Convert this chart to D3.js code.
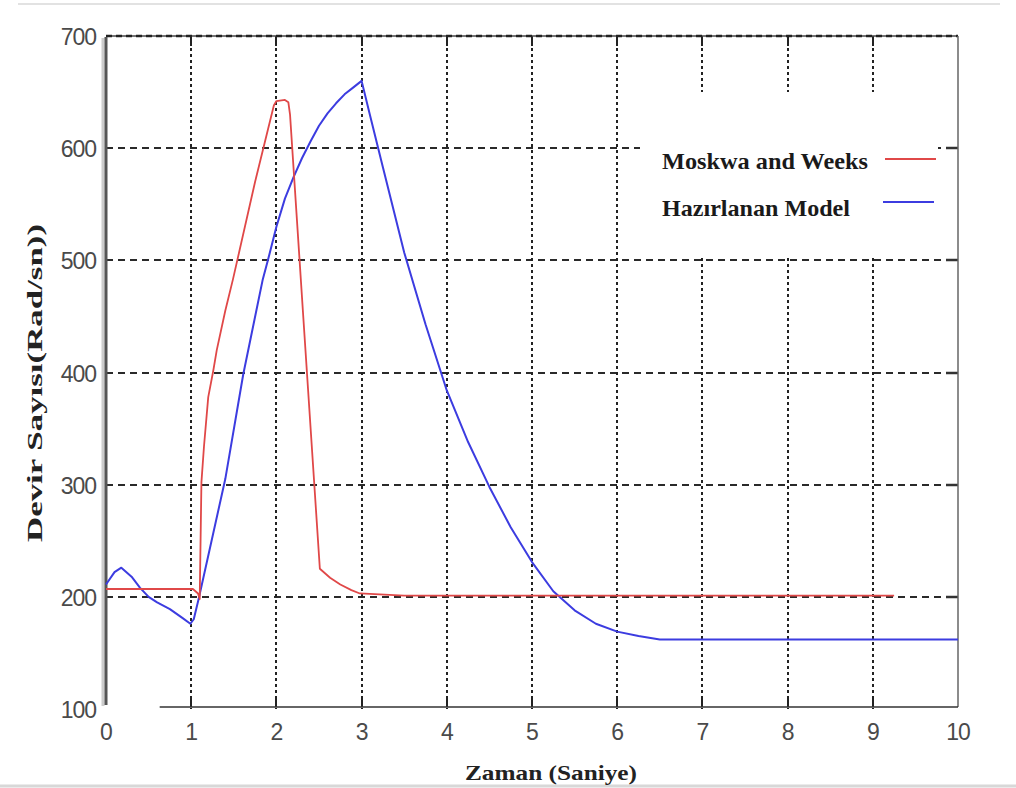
<!DOCTYPE html>
<html>
<head>
<meta charset="utf-8">
<script src="https://cdn.jsdelivr.net/npm/d3@7"></script>
<style>
  body { margin: 0; background: #fff; }
</style>
</head>
<body>
<svg></svg>
<script>
// Moskwa and Weeks (red)
var redTime  = [0, 1.02, 1.08, 1.10, 1.12, 1.15, 1.20, 1.26, 1.30, 1.40, 1.49, 1.75, 1.97, 2.00, 2.10, 2.14, 2.16, 2.31, 2.51, 2.63, 2.75, 2.88, 2.98, 3.5, 9.25];
var redSpeed = [207, 207, 203, 198, 302, 334, 378, 402, 420, 455, 483, 570, 638, 642, 643, 641, 630, 456, 225, 217, 211, 206, 203, 201, 201];

// Hazirlanan Model (blue)
var blueTime  = [0, 0.1, 0.18, 0.3, 0.4, 0.5, 0.6, 0.75, 0.9, 0.99, 1.03, 1.09, 1.40, 1.61, 1.84, 1.9, 2.0, 2.1, 2.2, 2.3, 2.4, 2.5, 2.6, 2.7, 2.8, 2.9, 3.0,
                 3.1, 3.25, 3.5, 3.75, 4.0, 4.25, 4.5, 4.75, 5.0, 5.25, 5.5, 5.75, 6.0, 6.25, 6.5, 10];
var blueSpeed = [211, 222, 226, 218, 208, 200, 195, 189, 181, 176, 180, 199, 305, 398, 483, 500, 530, 555, 574, 591, 606, 620, 631, 640, 648, 654, 660,
                 629, 583, 507, 443, 384, 338, 298, 262, 231, 205, 188, 176, 169, 165, 162, 162];

var xTicks = [0, 1, 2, 3, 4, 5, 6, 7, 8, 9, 10];
var yTicks = [100, 200, 300, 400, 500, 600, 700];
var legendNames = ["Moskwa and Weeks", "Hazırlanan Model"];

var svgWidth = 1016;
var svgHeight = 788;

var xScale = d3.scaleLinear().domain([0, 10]).range([106, 958]);
var yScale = d3.scaleLinear().domain([100, 700]).range([709, 36]);

function px(d) { return Math.round(xScale(d)); }
function py(d) { return Math.round(yScale(d)); }

var svg = d3.select("svg")
    .attr("width", svgWidth)
    .attr("height", svgHeight);

// faint frame lines of the scanned picture
svg.append("line").attr("x1", 18).attr("x2", 1000).attr("y1", 4).attr("y2", 4)
    .attr("stroke", "#e2e2e2").attr("stroke-width", 2);
svg.append("line").attr("x1", 0).attr("x2", 1016).attr("y1", 786).attr("y2", 786)
    .attr("stroke", "#d8d8d8").attr("stroke-width", 3);

// grid
svg.selectAll("line.hgrid")
    .data(yTicks.slice(1, 6))
    .enter()
    .append("line")
    .attr("class", "hgrid")
    .attr("x1", xScale(0)).attr("x2", xScale(10))
    .attr("y1", function(d) { return py(d); })
    .attr("y2", function(d) { return py(d); })
    .attr("stroke", "#2a2a2a")
    .attr("stroke-width", 2)
    .attr("stroke-dasharray", "7,5");

svg.selectAll("line.vgrid")
    .data(xTicks.slice(1, 10))
    .enter()
    .append("line")
    .attr("class", "vgrid")
    .attr("y1", yScale(700)).attr("y2", yScale(100))
    .attr("x1", function(d) { return px(d); })
    .attr("x2", function(d) { return px(d); })
    .attr("stroke", "#222")
    .attr("stroke-width", 2)
    .attr("stroke-dasharray", "3,3");

// ticks on the bottom / top / right
svg.selectAll("line.btick")
    .data(xTicks.slice(1, 10))
    .enter()
    .append("line")
    .attr("x1", function(d) { return px(d); })
    .attr("x2", function(d) { return px(d); })
    .attr("y1", 697).attr("y2", 707)
    .attr("stroke", "#222").attr("stroke-width", 2);
svg.selectAll("line.ttick")
    .data(xTicks.slice(1, 10))
    .enter()
    .append("line")
    .attr("x1", function(d) { return px(d); })
    .attr("x2", function(d) { return px(d); })
    .attr("y1", 36).attr("y2", 46)
    .attr("stroke", "#222").attr("stroke-width", 2);
svg.selectAll("line.rtick")
    .data(yTicks.slice(1, 6))
    .enter()
    .append("line")
    .attr("x1", 946).attr("x2", 958)
    .attr("y1", function(d) { return py(d); })
    .attr("y2", function(d) { return py(d); })
    .attr("stroke", "#333").attr("stroke-width", 2.5);

// legend background hides the grid
svg.append("rect")
    .attr("x", 640).attr("y", 92)
    .attr("width", 298).attr("height", 166)
    .attr("fill", "#fff");

// frame
svg.append("line").attr("x1", 106).attr("x2", 958).attr("y1", 36).attr("y2", 36)
    .attr("stroke", "#444").attr("stroke-width", 1.5);
svg.append("line").attr("x1", 106).attr("x2", 958).attr("y1", 36).attr("y2", 36)
    .attr("stroke", "#222").attr("stroke-width", 2.5).attr("stroke-dasharray", "6,4");
svg.append("line").attr("x1", 103).attr("x2", 103).attr("y1", 38).attr("y2", 706)
    .attr("stroke", "#ccc").attr("stroke-width", 3);
svg.append("line").attr("x1", 106).attr("x2", 106).attr("y1", 37).attr("y2", 705)
    .attr("stroke", "#555").attr("stroke-width", 3);
svg.append("line").attr("x1", 958).attr("x2", 958).attr("y1", 36).attr("y2", 707)
    .attr("stroke", "#666").attr("stroke-width", 1.5);
svg.append("line").attr("x1", xScale(0.63)).attr("x2", 958).attr("y1", 707).attr("y2", 707)
    .attr("stroke", "#333").attr("stroke-width", 1.5);

// curves
var redLine = d3.line()
    .x(function(d, i) { return xScale(redTime[i]); })
    .y(function(d) { return yScale(d); });
var blueLine = d3.line()
    .x(function(d, i) { return xScale(blueTime[i]); })
    .y(function(d) { return yScale(d); });

svg.append("path")
    .datum(blueSpeed)
    .attr("d", blueLine)
    .attr("fill", "none")
    .attr("stroke", "#3c3ce0")
    .attr("stroke-width", 2)
    .attr("stroke-linejoin", "round");

svg.append("path")
    .datum(redSpeed)
    .attr("d", redLine)
    .attr("fill", "none")
    .attr("stroke", "#e04848")
    .attr("stroke-width", 1.8)
    .attr("stroke-linejoin", "round");

// tick labels
svg.selectAll("text.ylab")
    .data(yTicks)
    .enter()
    .append("text")
    .text(function(d) { return d; })
    .attr("x", 96)
    .attr("y", function(d) { return yScale(d) + 9; })
    .attr("text-anchor", "end")
    .attr("font-family", "Liberation Sans, Arial, sans-serif")
    .attr("font-size", "23px")
    .attr("letter-spacing", "-1px")
    .attr("fill", "#4a4a4a");

svg.selectAll("text.xlab")
    .data(xTicks)
    .enter()
    .append("text")
    .text(function(d) { return d; })
    .attr("x", function(d) { return xScale(d); })
    .attr("y", 740)
    .attr("text-anchor", "middle")
    .attr("font-family", "Liberation Sans, Arial, sans-serif")
    .attr("font-size", "23px")
    .attr("letter-spacing", "-1px")
    .attr("fill", "#4a4a4a");

// axis titles
svg.append("text")
    .text("Zaman (Saniye)")
    .attr("x", 551).attr("y", 780)
    .attr("text-anchor", "middle")
    .attr("font-family", "Liberation Serif, Times New Roman, serif")
    .attr("font-weight", "bold")
    .attr("font-size", "22px")
    .attr("textLength", 172)
    .attr("lengthAdjust", "spacingAndGlyphs")
    .attr("fill", "#222");

svg.append("text")
    .text("Devir Sayısı(Rad/sn))")
    .attr("text-anchor", "middle")
    .attr("transform", "translate(42,383) rotate(-90)")
    .attr("font-family", "Liberation Serif, Times New Roman, serif")
    .attr("font-weight", "bold")
    .attr("font-size", "22px")
    .attr("textLength", 318)
    .attr("lengthAdjust", "spacingAndGlyphs")
    .attr("fill", "#222");

// legend
var legendColors = ["#e04848", "#3c3ce0"];
var legendY = [160, 207];
var legendWidths = [206, 188];

svg.selectAll("text.leg")
    .data(legendNames)
    .enter()
    .append("text")
    .text(function(d) { return d; })
    .attr("x", 662)
    .attr("y", function(d, i) { return legendY[i] + 9; })
    .attr("font-family", "Liberation Serif, Times New Roman, serif")
    .attr("font-weight", "bold")
    .attr("font-size", "23px")
    .attr("textLength", function(d, i) { return legendWidths[i]; })
    .attr("lengthAdjust", "spacingAndGlyphs")
    .attr("fill", "#1a1a1a");

svg.selectAll("line.leg")
    .data(legendNames)
    .enter()
    .append("line")
    .attr("x1", function(d, i) { return 885 - i * 2; })
    .attr("x2", function(d, i) { return 936 - i * 2; })
    .attr("y1", function(d, i) { return legendY[i] - 1 - i * 4; })
    .attr("y2", function(d, i) { return legendY[i] - 1 - i * 4; })
    .attr("stroke", function(d, i) { return legendColors[i]; })
    .attr("stroke-width", 1.8);
</script>
</body>
</html>
